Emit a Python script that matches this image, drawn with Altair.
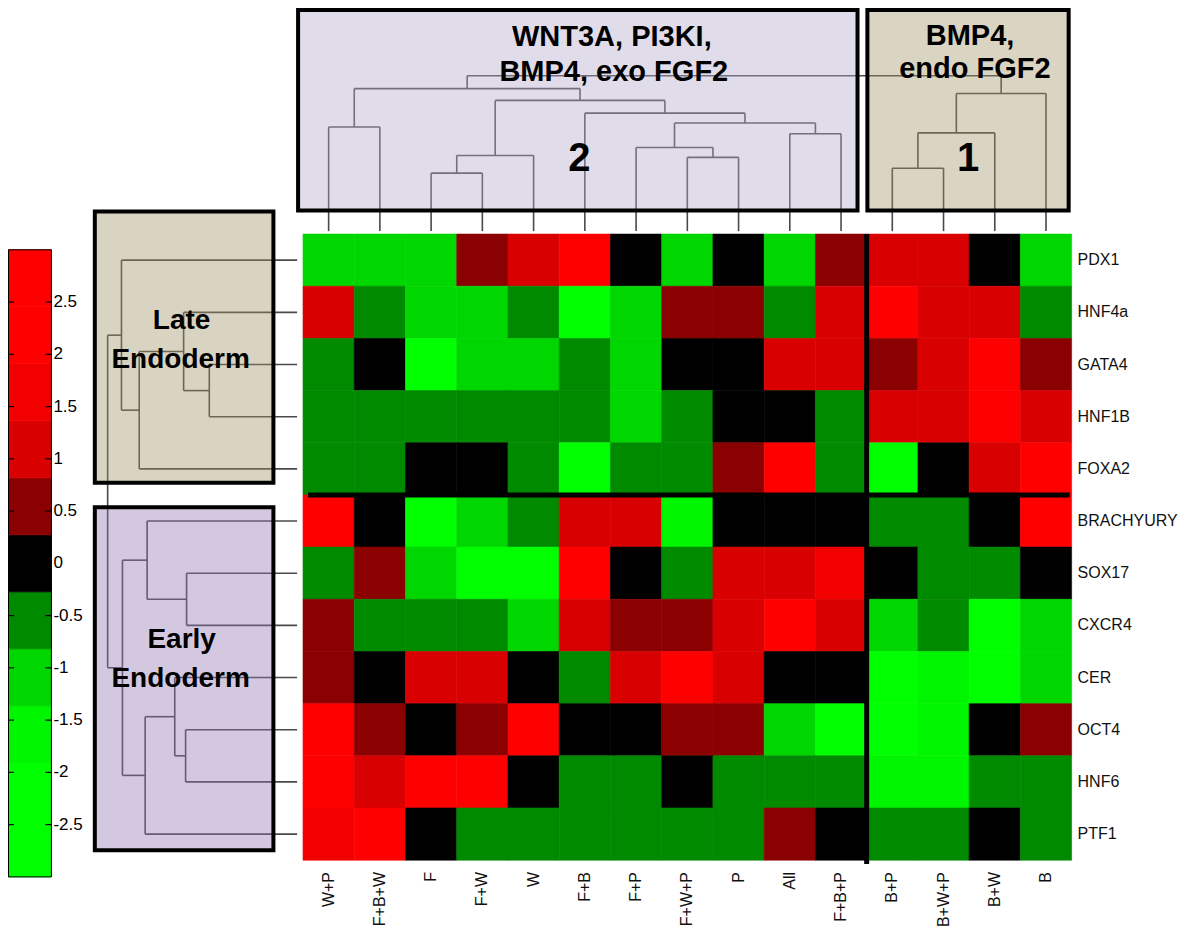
import altair as alt
import pandas as pd
import numpy as np

# ---------------- data ----------------
conditions = ["W+P", "F+B+W", "F", "F+W", "W", "F+B", "F+P", "F+W+P", "P", "All",
              "F+B+P", "B+P", "B+W+P", "B+W", "B"]
genes = ["PDX1", "HNF4a", "GATA4", "HNF1B", "FOXA2", "BRACHYURY", "SOX17",
         "CXCR4", "CER", "OCT4", "HNF6", "PTF1"]

PDX1      = [-1.1, -1.1, -1.1, 0.55, 1.1, 2.2, 0, -1.1, 0, -1.1, 0.55, 1.1, 1.1, 0, -1.1]
HNF4a     = [1.1, -0.55, -1.1, -1.1, -0.55, -2.2, -1.1, 0.55, 0.55, -0.55, 1.1, 2.2, 1.1, 1.1, -0.55]
GATA4     = [-0.55, 0, -2.2, -1.1, -1.1, -0.55, -1.1, 0, 0, 1.1, 1.1, 0.55, 1.1, 2.2, 0.55]
HNF1B     = [-0.55, -0.55, -0.55, -0.55, -0.55, -0.55, -1.1, -0.55, 0, 0, -0.55, 1.1, 1.1, 2.2, 1.1]
FOXA2     = [-0.55, -0.55, 0, 0, -0.55, -2.2, -0.55, -0.55, 0.55, 2.2, -0.55, -2.2, 0, 1.1, 2.2]
BRACHYURY = [2.2, 0, -2.2, -1.1, -0.55, 1.1, 1.1, -1.65, 0, 0, 0, -0.55, -0.55, 0, 2.2]
SOX17     = [-0.55, 0.55, -1.1, -2.2, -2.2, 2.2, 0, -0.55, 1.1, 1.1, 1.65, 0, -0.55, -0.55, 0]
CXCR4     = [0.55, -0.55, -0.55, -0.55, -1.1, 1.1, 0.55, 0.55, 1.1, 2.2, 1.1, -1.1, -0.55, -2.2, -1.1]
CER       = [0.55, 0, 1.1, 1.1, 0, -0.55, 1.1, 2.2, 1.1, 0, 0, -2.2, -1.65, -2.2, -1.1]
OCT4      = [2.2, 0.55, 0, 0.55, 2.2, 0, 0, 0.55, 0.55, -1.1, -2.2, -2.2, -1.65, 0, 0.55]
HNF6      = [2.2, 1.1, 2.2, 2.2, 0, -0.55, -0.55, 0, -0.55, -0.55, -0.55, -1.65, -1.65, -0.55, -0.55]
PTF1      = [1.65, 2.2, 0, -0.55, -0.55, -0.55, -0.55, -0.55, -0.55, 0.55, 0, -0.55, -0.55, 0, -0.55]
matrix = [PDX1, HNF4a, GATA4, HNF1B, FOXA2, BRACHYURY, SOX17, CXCR4, CER, OCT4, HNF6, PTF1]

# colour bar: 11 equal bins from -3 to 3
bin_colors = ["#00ff00", "#00ff00", "#00f500", "#00d600", "#008a00", "#000000",
              "#8b0000", "#d80000", "#f20000", "#ff0000", "#ff0000"]
bar_ticks = [2.5, 2, 1.5, 1, 0.5, 0, -0.5, -1, -1.5, -2, -2.5]
bar_tick_labels = ["2.5", "2", "1.5", "1", "0.5", "0", "-0.5", "-1", "-1.5", "-2", "-2.5"]

# column dendrogram: (left, right, new node, linkage distance)
col_merges = [
    ("W+P", "F+B+W", "c1", 1.06),
    ("F", "F+W", "c2", 0.59),
    ("c2", "W", "c3", 0.77),
    ("F+W+P", "P", "c4", 0.75),
    ("F+P", "c4", "c5", 0.85),
    ("All", "F+B+P", "c6", 0.99),
    ("c5", "c6", "c7", 1.10),
    ("F+B", "c7", "c8", 1.20),
    ("c3", "c8", "c9", 1.33),
    ("c1", "c9", "c10", 1.45),
    ("B+P", "B+W+P", "k1", 0.64),
    ("k1", "B+W", "k2", 1.00),
    ("k2", "B", "k3", 1.40),
    ("c10", "k3", "root", 1.58),
]
# row dendrogram
row_merges = [
    ("GATA4", "HNF1B", "l1", 0.89),
    ("HNF4a", "l1", "l2", 1.15),
    ("l2", "FOXA2", "l3", 1.60),
    ("PDX1", "l3", "l4", 1.78),
    ("SOX17", "CXCR4", "e1", 1.12),
    ("BRACHYURY", "e1", "e2", 1.52),
    ("OCT4", "HNF6", "e3", 1.13),
    ("CER", "e3", "e4", 1.24),
    ("e4", "PTF1", "e5", 1.54),
    ("e2", "e5", "e6", 1.77),
    ("l4", "e6", "root", 1.92),
]
col_dmax = 1.58
row_dmax = 1.92

# ---------------- helpers ----------------
SX = 1184 / 1200
SY = 920 / 936


def P(x):
    return x * SX


def Q(y):
    return y * SY


def dendro_segments(leaves, merges):
    pos = {n: float(i) for i, n in enumerate(leaves)}
    h = {n: 0.0 for n in leaves}
    segs = []
    for a, b, name, d in merges:
        segs.append(dict(p1=pos[a], p2=pos[a], d1=h[a], d2=d))
        segs.append(dict(p1=pos[b], p2=pos[b], d1=h[b], d2=d))
        segs.append(dict(p1=pos[a], p2=pos[b], d1=d, d2=d))
        pos[name] = (pos[a] + pos[b]) / 2
        h[name] = d
    return pd.DataFrame(segs)


heat_df = pd.DataFrame([
    {"gene": g, "cond": c, "val": v}
    for g, row in zip(genes, matrix) for c, v in zip(conditions, row)
])

edges = np.linspace(-3, 3, 12)
bounds = [float(e) for e in edges[1:-1]]
bar_df = pd.DataFrame({"lo": edges[:-1], "hi": edges[1:], "col": bin_colors})
tick_df = pd.DataFrame({"v": bar_ticks, "lab": bar_tick_labels})

FONT = "Liberation Sans"
LINE = "#4a4a4a"


def xband():
    return alt.Scale(domain=conditions, range=[P(299), P(1078)], paddingInner=0, paddingOuter=0)


def yband():
    return alt.Scale(domain=genes, range=[Q(230), Q(867)], paddingInner=0, paddingOuter=0)


cscale = alt.Scale(type="threshold", domain=bounds, range=bin_colors)

heat = alt.Chart(heat_df).mark_rect(strokeWidth=0.6).encode(
    x=alt.X("cond:N", scale=xband(), axis=None),
    y=alt.Y("gene:N", scale=yband(), axis=None),
    color=alt.Color("val:Q", scale=cscale, legend=None),
    stroke=alt.Color("val:Q", scale=cscale, legend=None),
)

sep_v = alt.Chart(pd.DataFrame({"cond": ["B+P"]})).mark_rule(color="black", strokeWidth=5).encode(
    x=alt.X("cond:N", scale=xband(), axis=None, bandPosition=0),
    y=alt.value(Q(230)), y2=alt.value(Q(871)),
)
sep_h = alt.Chart(pd.DataFrame({"gene": ["BRACHYURY"]})).mark_rule(color="black", strokeWidth=5).encode(
    y=alt.Y("gene:N", scale=yband(), axis=None, bandPosition=0),
    x=alt.value(P(304)), x2=alt.value(P(1076)),
)

row_labels = alt.Chart(pd.DataFrame({"gene": genes})).mark_text(
    align="left", baseline="middle", fontSize=16, font=FONT, color="#111111"
).encode(
    y=alt.Y("gene:N", scale=yband(), axis=None),
    x=alt.value(P(1084)),
    text="gene:N",
)
col_labels = alt.Chart(pd.DataFrame({"cond": conditions})).mark_text(
    align="right", baseline="middle", angle=270, fontSize=16, font=FONT, color="#111111"
).encode(
    x=alt.X("cond:N", scale=xband(), axis=None),
    y=alt.value(Q(879)),
    text="cond:N",
)

top_df = dendro_segments(conditions, col_merges)
left_df = dendro_segments(genes, row_merges)

top_dendro = alt.Chart(top_df).mark_rule(color=LINE, strokeWidth=1.6).encode(
    x=alt.X("p1:Q", scale=alt.Scale(domain=[-0.5, 14.5], range=[P(299), P(1078)], nice=False, zero=False), axis=None),
    x2="p2:Q",
    y=alt.Y("d1:Q", scale=alt.Scale(domain=[0, col_dmax], range=[Q(227), Q(69)], nice=False, zero=False), axis=None),
    y2="d2:Q",
)
left_dendro = alt.Chart(left_df).mark_rule(color=LINE, strokeWidth=1.6).encode(
    y=alt.Y("p1:Q", scale=alt.Scale(domain=[-0.5, 11.5], range=[Q(230), Q(867)], nice=False, zero=False), axis=None),
    y2="p2:Q",
    x=alt.X("d1:Q", scale=alt.Scale(domain=[0, row_dmax], range=[P(293), P(101)], nice=False, zero=False), axis=None),
    x2="d2:Q",
)

one = pd.DataFrame({"a": [0]})


def box(x0, x1, y0, y1, fill):
    return alt.Chart(one).mark_rect(fill=fill, fillOpacity=0.4, stroke="black", strokeWidth=4).encode(
        x=alt.value(P(x0)), x2=alt.value(P(x1)), y=alt.value(Q(y0)), y2=alt.value(Q(y1))
    )


def label(txt, x, y, size):
    return alt.Chart(one).mark_text(
        text=txt, font=FONT, fontWeight="bold", fontSize=size, color="black",
        align="center", baseline="middle"
    ).encode(x=alt.value(P(x)), y=alt.value(Q(y)))


boxes = [
    box(294, 861, 2, 206, "#b1a7ca"),
    box(871, 1075, 2, 206, "#a29666"),
    box(88, 269, 207, 483, "#a09364"),
    box(88, 269, 508, 857, "#9375b1"),
]
texts = [
    label("WNT3A, PI3KI,", 612, 30, 29),
    label("BMP4, exo FGF2", 614, 65, 29),
    label("2", 579, 154, 40),
    label("BMP4,", 975, 28, 29),
    label("endo FGF2", 980, 62, 29),
    label("1", 973, 154, 40),
    label("Late", 176, 318, 28),
    label("Endoderm", 175, 358, 28),
    label("Early", 176, 643, 28),
    label("Endoderm", 175, 683, 28),
]

bar_y = alt.Scale(domain=[-3, 3], range=[Q(884), Q(246)], nice=False, zero=False)
bar = alt.Chart(bar_df).mark_rect(strokeWidth=0.8).encode(
    y=alt.Y("lo:Q", scale=bar_y, axis=None), y2="hi:Q",
    x=alt.value(P(0)), x2=alt.value(P(44)),
    color=alt.Color("col:N", scale=None, legend=None),
    stroke=alt.Color("col:N", scale=None, legend=None),
)
bar_border = alt.Chart(one).mark_rect(fillOpacity=0, stroke="black", strokeWidth=1).encode(
    x=alt.value(P(0.5)), x2=alt.value(P(44)), y=alt.value(Q(246)), y2=alt.value(Q(884))
)
ticks_l = alt.Chart(tick_df).mark_rule(color="black", strokeWidth=1.2).encode(
    y=alt.Y("v:Q", scale=bar_y, axis=None), x=alt.value(P(0)), x2=alt.value(P(6))
)
ticks_r = alt.Chart(tick_df).mark_rule(color="black", strokeWidth=1.2).encode(
    y=alt.Y("v:Q", scale=bar_y, axis=None), x=alt.value(P(38)), x2=alt.value(P(44))
)
tick_text = alt.Chart(tick_df).mark_text(
    align="left", baseline="middle", fontSize=17, font=FONT, color="black"
).encode(
    y=alt.Y("v:Q", scale=bar_y, axis=None), x=alt.value(P(46)), text="lab:N"
)

chart = alt.layer(
    heat, sep_v, sep_h, row_labels, col_labels,
    top_dendro, left_dendro,
    *boxes, *texts,
    bar, bar_border, ticks_l, ticks_r, tick_text,
).resolve_scale(
    x="independent", y="independent", color="independent", stroke="independent"
).properties(
    width=1184, height=920,
    autosize=alt.AutoSizeParams(type="none"),
    padding=0,
).configure_view(stroke=None)

chart.save("out.html", embed_options={"renderer": "svg", "actions": False})
